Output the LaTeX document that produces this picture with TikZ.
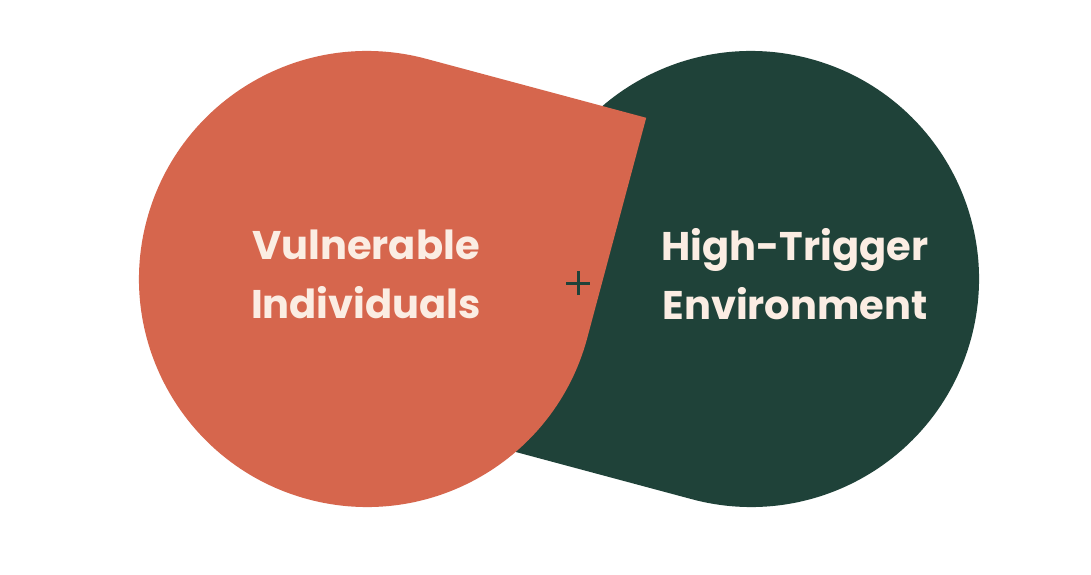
\documentclass[tikz,border=0pt]{standalone}
\usepackage{fontspec}
\setmainfont{Poppins}
\definecolor{vulnorange}{HTML}{D6664D}
\definecolor{envgreen}{HTML}{1F4239}
\definecolor{labelcream}{HTML}{FBEDE3}

\begin{document}
\begin{tikzpicture}[
  x=1pt, y=1pt,
  vulnshape/.style={fill=vulnorange},
  envshape/.style={fill=envgreen},
  label/.style={text=labelcream, align=center, inner sep=0pt,
    font=\bfseries\fontsize{40}{59}\selectfont}]
\useasboundingbox[fill=white] (0,0) rectangle (1091,574);
\coordinate (vc) at (367,295);
\coordinate (ec) at (751,295);
% green drop, sharp corner down left
\fill[envshape] ([shift={(165:228)}]ec) -- ([shift={(210:322.4)}]ec)
  -- ([shift={(255:228)}]ec) arc[start angle=255, end angle=525, radius=228pt] -- cycle;
% orange drop, sharp corner up right
\fill[vulnshape] ([shift={(75:228)}]vc) -- ([shift={(30:322.4)}]vc)
  -- ([shift={(-15:228)}]vc) arc[start angle=-15, end angle=-285, radius=228pt] -- cycle;
\node[label] (vuln) at (366,300) {Vulnerable\\Individuals};
\node[label] (env) at (795,300) {High-Trigger\\Environment};
\coordinate (plus) at (578,291);
\draw[envgreen, line width=3pt] ([xshift=-12]plus) -- ([xshift=12]plus)
  ([yshift=-12]plus) -- ([yshift=12]plus);
\end{tikzpicture}
\end{document}
